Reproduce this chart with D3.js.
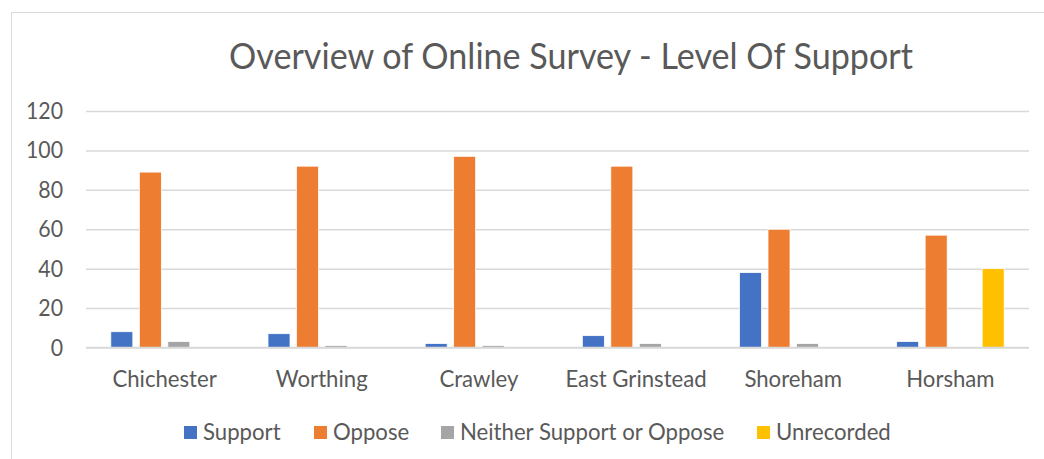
<!DOCTYPE html>
<html>
<head>
<meta charset="utf-8">
<script src="https://cdn.jsdelivr.net/npm/d3@7"></script>
<style>
  html, body { margin: 0; padding: 0; background: #fff; }
  svg { display: block; }
  text { font-family: Lato, "Open Sans", sans-serif; fill: #595959; }
</style>
</head>
<body>
<svg id="chart" width="1044" height="459"></svg>
<script>
const title = "Overview of Online Survey - Level Of Support";
const categories = ["Chichester", "Worthing", "Crawley", "East Grinstead", "Shoreham", "Horsham"];
const seriesNames = ["Support", "Oppose", "Neither Support or Oppose", "Unrecorded"];
const support = [8, 7, 2, 6, 38, 3];
const oppose = [89, 92, 97, 92, 60, 57];
const neither = [3, 1, 1, 2, 2, 0];
const unrecorded = [0, 0, 0, 0, 0, 40];
const yTicks = [0, 20, 40, 60, 80, 100, 120];
const colors = ["#4472C4", "#ED7D31", "#A5A5A5", "#FFC000"];

const seriesValues = [support, oppose, neither, unrecorded];
const svg = d3.select("#chart");

// chart border
svg.append("rect").attr("x", 11.5).attr("y", 12.5).attr("width", 1100).attr("height", 500)
  .attr("fill", "none").attr("stroke", "#d9d9d9").attr("stroke-width", 1);

const plot = { left: 86, right: 1029, top: 111, bottom: 347.5 };
const y = d3.scaleLinear().domain([0, 120]).range([plot.bottom, plot.top]);
const x0 = d3.scaleBand().domain(categories).range([plot.left, plot.right]).padding(0);
const groupW = 107.5;
const x1 = d3.scaleBand().domain(seriesNames).range([0, groupW]).paddingInner(0.228).paddingOuter(0);
const groupOffset = (x0.bandwidth() - groupW) / 2;

// squeeze factor for text (reference text is horizontally condensed)
const probe = svg.append("text").style("font-size", "36px").text(title);
const sx = 684 / probe.node().getComputedTextLength();
probe.remove();

function sText(g, x, yy, str, size, anchor) {
  return g.append("text")
    .attr("transform", `translate(${x},${yy}) scale(${sx},1)`)
    .attr("text-anchor", anchor)
    .style("font-size", size + "px")
    .text(str);
}

// gridlines
const yAxis = d3.axisLeft(y).tickValues(yTicks).tickSize(-(plot.right - plot.left)).tickFormat("");
const ga = svg.append("g").attr("transform", `translate(${plot.left},0)`).call(yAxis);
ga.select(".domain").remove();
ga.selectAll(".tick line").attr("stroke", "#d9d9d9").attr("stroke-width", 1.5);

// tick labels
yTicks.forEach(t => sText(svg, 63, y(t) + 8, String(t), 22.5, "end"));

// bars
const groups = svg.append("g").selectAll("g").data(categories).join("g")
  .attr("transform", d => `translate(${x0(d) + groupOffset},0)`);
groups.selectAll("rect")
  .data((c, i) => seriesNames.map((s, j) => ({ s, j, v: seriesValues[j][i] })).filter(d => d.v > 0))
  .join("rect")
  .attr("x", d => x1(d.s))
  .attr("width", x1.bandwidth())
  .attr("y", d => y(d.v))
  .attr("height", d => y(0) - y(d.v))
  .attr("fill", d => colors[d.j])
  .attr("stroke", "#fff").attr("stroke-width", 0.75);

// baseline
svg.append("line").attr("x1", plot.left).attr("x2", plot.right)
  .attr("y1", y(0)).attr("y2", y(0)).attr("stroke", "#d9d9d9").attr("stroke-width", 1.5);

// category labels
categories.forEach(c => sText(svg, x0(c) + x0.bandwidth() / 2, 387, c, 23.4, "middle"));

// title
sText(svg, 571, 69, title, 36, "middle");

// legend
const legendX = [184, 314, 441, 757];
seriesNames.forEach((s, j) => {
  svg.append("rect").attr("x", legendX[j]).attr("y", 426).attr("width", 13).attr("height", 13)
    .attr("fill", colors[j]);
  sText(svg, legendX[j] + 19, 440, s, 23.4, "start");
});
</script>
</body>
</html>
